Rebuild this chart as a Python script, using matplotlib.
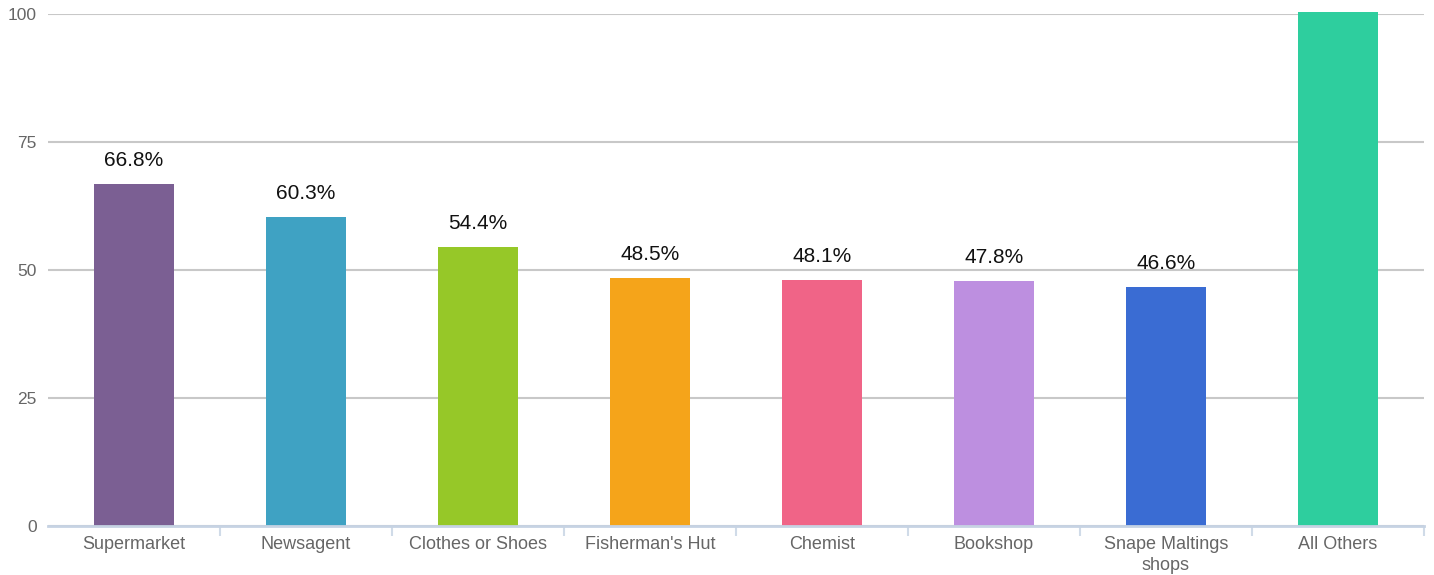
import matplotlib
matplotlib.use("Agg")
import matplotlib.pyplot as plt
import numpy as np

plt.rcParams["font.family"] = ["Liberation Sans", "DejaVu Sans"]

# ── Data ─────────────────────────────────────────────────────────────────────
categories = ["Supermarket", "Newsagent", "Clothes or Shoes", "Fisherman's Hut",
              "Chemist", "Bookshop", "Snape Maltings\nshops", "All Others"]
values = [66.8, 60.3, 54.4, 48.5, 48.1, 47.8, 46.6, 100.4]
labels = ["66.8%", "60.3%", "54.4%", "48.5%", "48.1%", "47.8%", "46.6%", ""]
colors = ["#7b5f93", "#3fa2c3", "#96c828", "#f5a41a",
          "#f06487", "#bd8fe0", "#3a6cd3", "#2ece9e"]
y_ticks = [0, 25, 50, 75, 100]

# ── Figure ───────────────────────────────────────────────────────────────────
W, H = 1434, 575
fig = plt.figure(figsize=(W / 100, H / 100), dpi=100)
ax = fig.add_axes([48 / W, (H - 526) / H, (1424 - 48) / W, (526 - 14) / H])

x = np.arange(len(categories))
ax.bar(x, values, width=0.47, color=colors, zorder=2, clip_on=False)

for xi, v, lab in zip(x, values, labels):
    if lab:
        ax.annotate(lab, (xi, v), xytext=(0, 17), textcoords="offset points",
                    ha="center", va="center", fontsize=15, color="#111111")

ax.set_xlim(-0.5, len(categories) - 0.5)
ax.set_ylim(0, 100)
ax.set_yticks(y_ticks)
ax.set_yticklabels([str(t) for t in y_ticks])
ax.yaxis.grid(True, color="#c8c8c8", linewidth=1.5, zorder=0)
ax.set_axisbelow(True)

ax.set_xticks(x)
ax.set_xticklabels(categories, fontsize=13, color="#666666", linespacing=1.35)
ax.tick_params(axis="x", length=0, pad=7)
ax.tick_params(axis="y", length=0, pad=8, labelsize=12.5, labelcolor="#666666")

# boundary ticks between categories
ax.set_xticks(np.arange(0.5, len(categories), 1.0), minor=True)
ax.tick_params(axis="x", which="minor", length=7, width=1.5, color="#d0dbe8")

for s in ["top", "right", "left"]:
    ax.spines[s].set_visible(False)
ax.spines["bottom"].set_color("#c6d3e3")
ax.spines["bottom"].set_linewidth(2)
ax.spines["bottom"].set_zorder(3)

fig.savefig("out.png", dpi=100)
